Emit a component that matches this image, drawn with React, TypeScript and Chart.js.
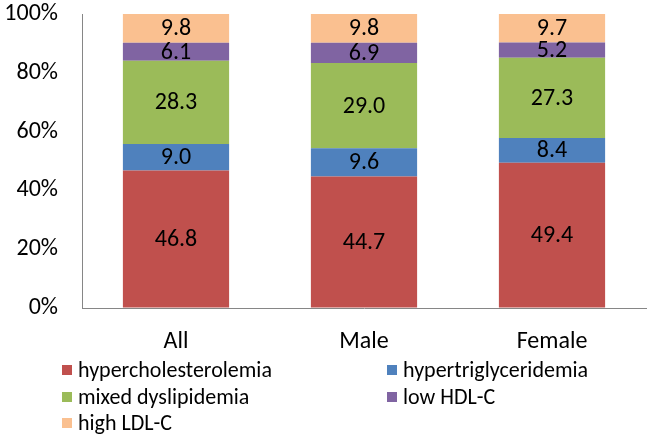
import React, { useEffect, useRef } from "react";
import { Chart, registerables } from "chart.js";

Chart.register(...registerables);

const categories = ["All", "Male", "Female"];
const seriesNames = [
  "hypercholesterolemia",
  "hypertriglyceridemia",
  "mixed dyslipidemia",
  "low HDL-C",
  "high LDL-C",
];
const hypercholesterolemia = [46.8, 44.7, 49.4];
const hypertriglyceridemia = [9.0, 9.6, 8.4];
const mixedDyslipidemia = [28.3, 29.0, 27.3];
const lowHDLC = [6.1, 6.9, 5.2];
const highLDLC = [9.8, 9.8, 9.7];
const yTicks = [0, 20, 40, 60, 80, 100];

const colors = ["#C0504D", "#4F81BD", "#9BBB59", "#8064A2", "#FAC090"];
const FONT = "Carlito, Lato, 'Open Sans', sans-serif";

const labelPlugin = {
  id: "segLabels",
  afterDatasetsDraw(chart: any) {
    const ctx = chart.ctx;
    ctx.save();
    ctx.font = `24px ${FONT}`;
    ctx.fillStyle = "#000";
    ctx.textAlign = "center";
    ctx.textBaseline = "middle";
    chart.data.datasets.forEach((ds: any, i: number) => {
      const meta = chart.getDatasetMeta(i);
      meta.data.forEach((el: any, j: number) => {
        const { x, y, base } = el.getProps(["x", "y", "base"], true);
        ctx.fillText(Number(ds.data[j]).toFixed(1), x, (y + base) / 2 + 1);
      });
    });
    ctx.restore();
  },
};

const legendPlugin = {
  id: "gridLegend",
  afterDraw(chart: any) {
    const ctx = chart.ctx;
    ctx.save();
    ctx.font = `22px ${FONT}`;
    ctx.textAlign = "left";
    ctx.textBaseline = "middle";
    const cols = [62, 387];
    const rows = [370, 397, 423];
    chart.data.datasets.forEach((ds: any, i: number) => {
      const cx = cols[i % 2];
      const cy = rows[Math.floor(i / 2)];
      ctx.fillStyle = ds.backgroundColor;
      ctx.fillRect(cx, cy - 5, 10, 10);
      ctx.fillStyle = "#000";
      ctx.fillText(ds.label, cx + 16, cy + 1);
    });
    ctx.restore();
  },
};

export default function App() {
  const ref = useRef<HTMLCanvasElement>(null);
  useEffect(() => {
    const values = [hypercholesterolemia, hypertriglyceridemia, mixedDyslipidemia, lowHDLC, highLDLC];
    const chart = new Chart(ref.current as HTMLCanvasElement, {
      type: "bar",
      data: {
        labels: categories,
        datasets: values.map((v, i) => ({
          label: seriesNames[i],
          data: v,
          backgroundColor: colors[i],
          borderWidth: 0,
          barPercentage: 0.565,
          categoryPercentage: 1,
        })),
      },
      options: {
        animation: false,
        responsive: false,
        maintainAspectRatio: false,
        layout: { padding: { top: 14, right: 6, left: 0, bottom: 0 } },
        plugins: { legend: { display: false }, tooltip: { enabled: false } },
        scales: {
          x: {
            stacked: true,
            grid: { display: true, color: "transparent", drawTicks: false },
            border: { display: true, color: "#868686", width: 1 },
            ticks: { color: "#000", font: { family: FONT, size: 24 }, padding: 20 },
            afterFit: (s: any) => { s.height = 132; s.paddingLeft = 0; s.paddingRight = 0; },
          },
          y: {
            stacked: true,
            min: 0,
            max: 100,
            afterBuildTicks: (s: any) => { s.ticks = yTicks.map((v) => ({ value: v })); },
            grid: { display: true, color: "transparent", drawTicks: false },
            border: { display: true, color: "#868686", width: 1 },
            ticks: {
              color: "#000",
              font: { family: FONT, size: 24 },
              padding: 24,
              callback: (v: any) => `${v}%`,
            },
            afterFit: (s: any) => { s.width = 82; s.paddingTop = 0; s.paddingBottom = 0; },
          },
        },
      },
      plugins: [labelPlugin, legendPlugin],
    });
    return () => chart.destroy();
  }, []);
  return (
    <div style={{ position: "fixed", left: 0, top: 0, width: 652, height: 440, background: "#fff" }}>
      <canvas ref={ref} width={652} height={440} style={{ width: 652, height: 440 }} />
    </div>
  );
}
